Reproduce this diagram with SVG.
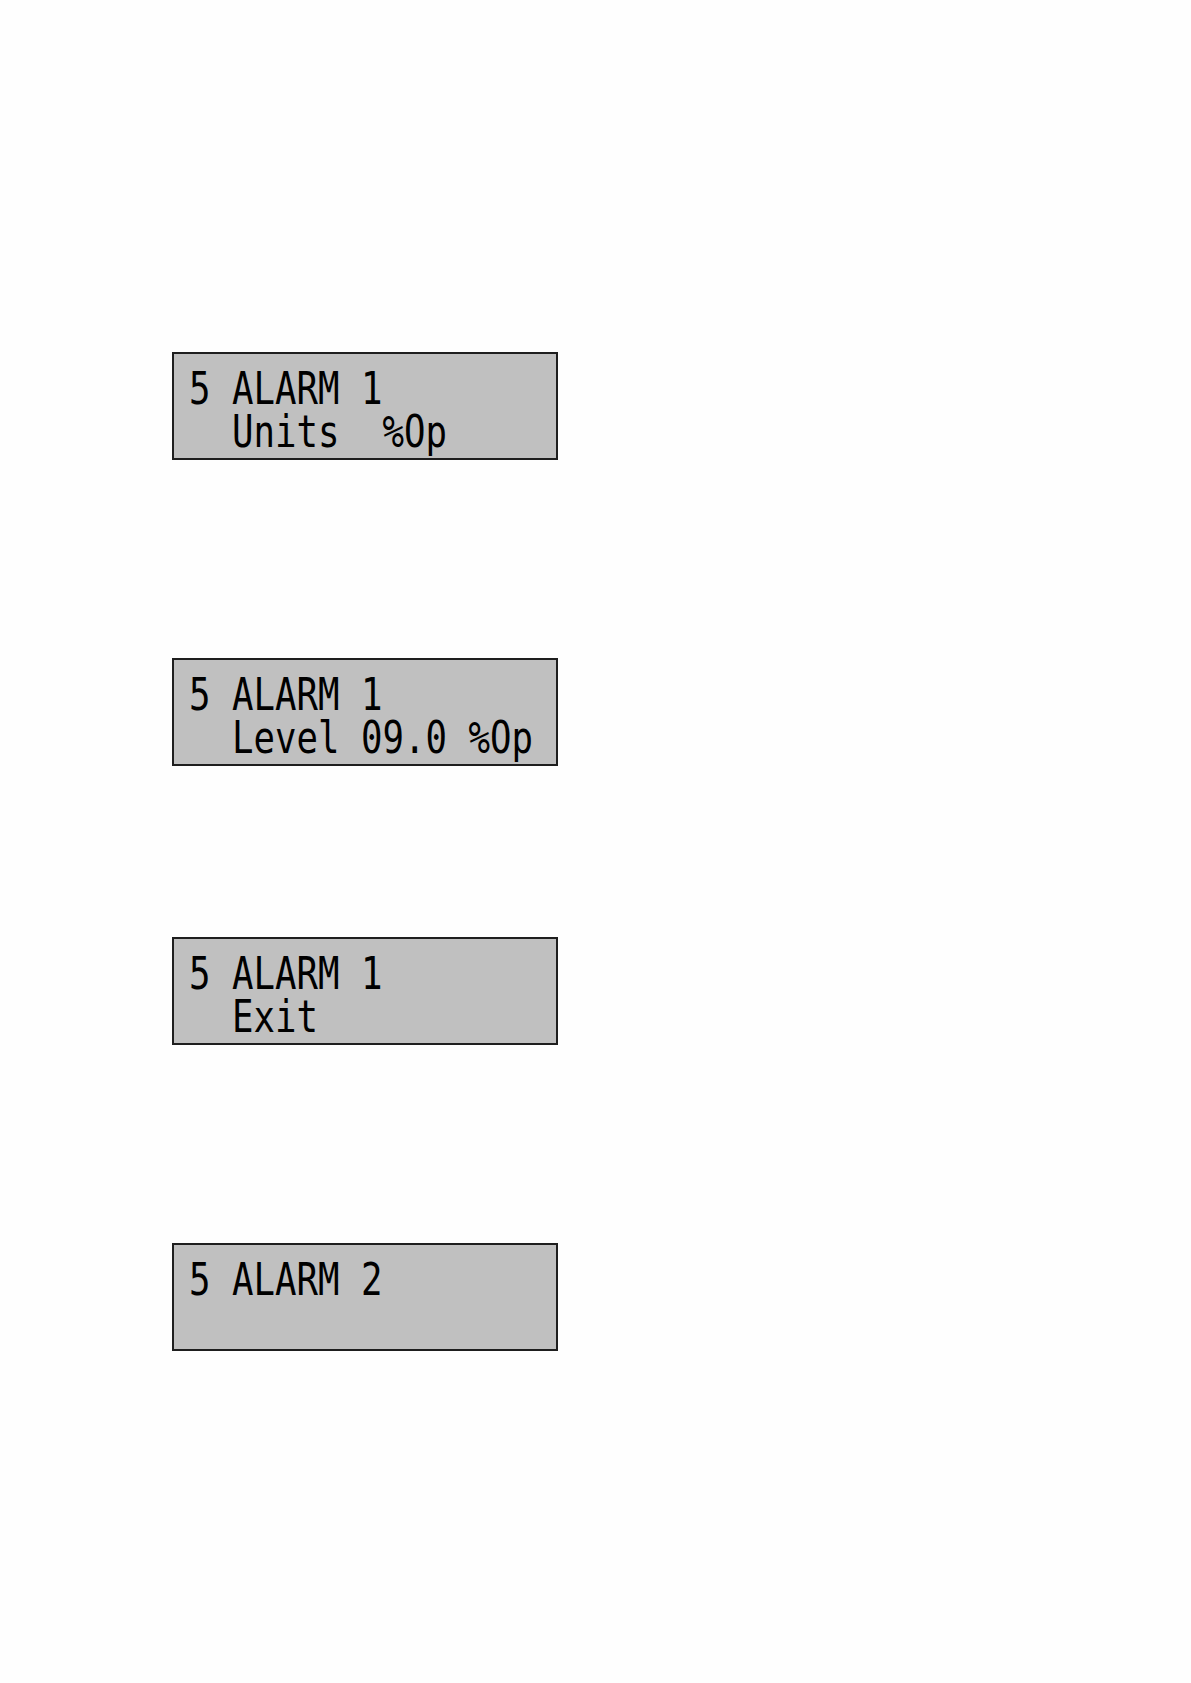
<svg xmlns="http://www.w3.org/2000/svg" width="1191" height="1683" viewBox="0 0 1191 1683">
<style>
.bg{fill:#fefefe}
.lcd{fill:#c0c0c0;stroke:#1e1e1e;stroke-width:2}
.t{font-family:"DejaVu Sans Mono","Liberation Mono",monospace;font-size:44px;fill:#000;white-space:pre}
</style>
<rect class="bg" x="0" y="0" width="1191" height="1683"/>
<g id="node-units">
<rect class="lcd" x="173" y="353" width="384" height="106"/>
<text class="t" x="189" y="404" textLength="193.5" lengthAdjust="spacingAndGlyphs">5 ALARM 1</text>
<text class="t" x="232" y="447" textLength="215" lengthAdjust="spacingAndGlyphs">Units  %Op</text>
</g>
<g id="node-level">
<rect class="lcd" x="173" y="659" width="384" height="106"/>
<text class="t" x="189" y="710" textLength="193.5" lengthAdjust="spacingAndGlyphs">5 ALARM 1</text>
<text class="t" x="232" y="753" textLength="301" lengthAdjust="spacingAndGlyphs">Level 09.0 %Op</text>
</g>
<g id="node-exit">
<rect class="lcd" x="173" y="938" width="384" height="106"/>
<text class="t" x="189" y="989" textLength="193.5" lengthAdjust="spacingAndGlyphs">5 ALARM 1</text>
<text class="t" x="232" y="1032" textLength="86" lengthAdjust="spacingAndGlyphs">Exit</text>
</g>
<g id="node-alarm2">
<rect class="lcd" x="173" y="1244" width="384" height="106"/>
<text class="t" x="189" y="1295" textLength="193.5" lengthAdjust="spacingAndGlyphs">5 ALARM 2</text>
</g>
<g id="connectors"></g>
</svg>
